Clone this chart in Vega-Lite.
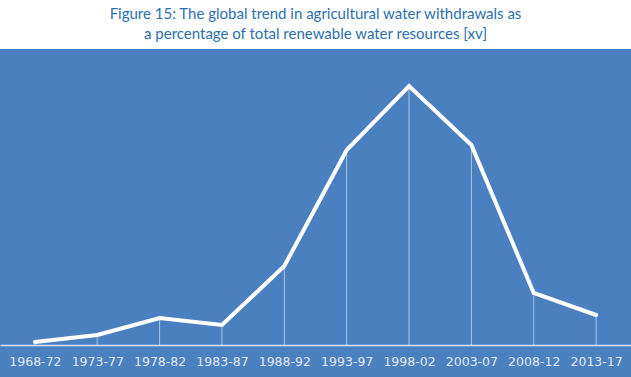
{
  "$schema": "https://vega.github.io/schema/vega-lite/v6.json",
  "autosize": {"type": "none"},
  "width": 631,
  "height": 328,
  "padding": {"top": 49, "left": 0, "right": 0, "bottom": 0},
  "background": "white",
  "title": {
    "text": ["Figure 15: The global trend in agricultural water withdrawals as", "a percentage of total renewable water resources [xv]"],
    "anchor": "middle",
    "frame": "group",
    "font": "Lato",
    "fontSize": 15,
    "fontWeight": "normal",
    "color": "#2b70ad",
    "lineHeight": 20,
    "offset": 7
  },
  "config": {
    "view": {"fill": "#4a7fc0", "stroke": null}
  },
  "data": {
    "values": [
      {"period": "1968-72", "value": 3},
      {"period": "1973-77", "value": 10},
      {"period": "1978-82", "value": 27},
      {"period": "1983-87", "value": 20},
      {"period": "1988-92", "value": 79},
      {"period": "1993-97", "value": 195},
      {"period": "1998-02", "value": 259},
      {"period": "2003-07", "value": 200},
      {"period": "2008-12", "value": 52},
      {"period": "2013-17", "value": 30}
    ]
  },
  "encoding": {
    "x": {
      "field": "period",
      "type": "ordinal",
      "sort": null,
      "scale": {"type": "point", "padding": 0.56},
      "axis": {
        "title": null,
        "orient": "bottom",
        "offset": -32,
        "ticks": false,
        "grid": false,
        "domainColor": "#dce6f2",
        "domainWidth": 1.5,
        "labelColor": "#e1e9f4",
        "labelFont": "DejaVu Sans",
        "labelFontSize": 12.5,
        "labelPadding": 10,
        "labelAngle": 0
      }
    }
  },
  "layer": [
    {
      "mark": {"type": "rule", "color": "white", "strokeWidth": 1, "opacity": 0.55},
      "encoding": {
        "y": {"field": "value", "type": "quantitative", "scale": {"domain": [-32, 296], "nice": false, "zero": false}, "axis": null},
        "y2": {"datum": 0}
      }
    },
    {
      "mark": {"type": "line", "color": "white", "strokeWidth": 4, "strokeCap": "round", "strokeJoin": "miter"},
      "encoding": {
        "y": {"field": "value", "type": "quantitative", "scale": {"domain": [-32, 296], "nice": false, "zero": false}, "axis": null}
      }
    }
  ]
}
